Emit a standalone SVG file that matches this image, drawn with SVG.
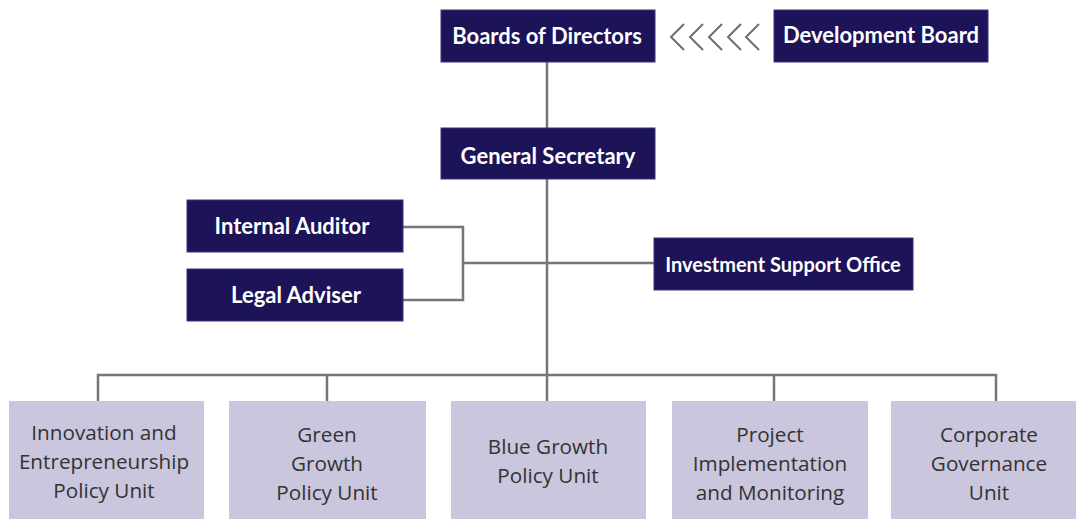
<svg xmlns="http://www.w3.org/2000/svg" width="1076" height="519" viewBox="0 0 1076 519">
<style>
.dk{fill:#1c1358;stroke:#3a3280;stroke-width:1}
.lt{fill:#c9c6dd}
.wt{font-family:Lato,"Open Sans",sans-serif;font-weight:bold;font-size:22px;fill:#ffffff;text-anchor:middle}
.gt{font-family:"Open Sans","Noto Sans",sans-serif;font-size:20.7px;fill:#333333;text-anchor:middle}
.ln{fill:none;stroke:#767676;stroke-width:2.5}
.ch{fill:none;stroke:#6e6e6e;stroke-width:2}
</style>
<rect width="1076" height="519" fill="#ffffff"/>
<g id="connectors">
<path class="ln" d="M547 62V375"/>
<path class="ln" d="M403 227H463V300H403M463 263H654"/>
<path class="ln" d="M98 402V375H996V402M327 375V402M547 375V402M774 375V402"/>
<g id="chevrons">
<path class="ch" d="M684 24L671 37L684 50"/>
<path class="ch" d="M703 24L690 37L703 50"/>
<path class="ch" d="M722 24L709 37L722 50"/>
<path class="ch" d="M741 24L728 37L741 50"/>
<path class="ch" d="M759 24L746 37L759 50"/>
</g>
</g>
<g id="boards"><rect class="dk" x="441" y="10" width="214" height="52"/><text class="wt" x="547" y="44">Boards of Directors</text></g>
<g id="development"><rect class="dk" x="774" y="10" width="214" height="52"/><text class="wt" x="881" y="43">Development Board</text></g>
<g id="secretary"><rect class="dk" x="441" y="128" width="214" height="51"/><text class="wt" x="548" y="164">General Secretary</text></g>
<g id="auditor"><rect class="dk" x="187" y="200" width="216" height="52"/><text class="wt" x="292" y="234">Internal Auditor</text></g>
<g id="legal"><rect class="dk" x="187" y="269" width="216" height="52"/><text class="wt" x="296" y="303">Legal Adviser</text></g>
<g id="investment"><rect class="dk" x="654" y="238" width="259" height="52"/><text class="wt" x="783" y="272" style="font-size:20px">Investment Support Office</text></g>
<g id="unit1"><rect class="lt" x="9" y="401" width="195" height="118"/><text class="gt" x="104" y="440">Innovation and</text><text class="gt" x="104" y="469">Entrepreneurship</text><text class="gt" x="104" y="498">Policy Unit</text></g>
<g id="unit2"><rect class="lt" x="229" y="401" width="197" height="118"/><text class="gt" x="327" y="442">Green</text><text class="gt" x="327" y="471">Growth</text><text class="gt" x="327" y="500">Policy Unit</text></g>
<g id="unit3"><rect class="lt" x="451" y="401" width="195" height="118"/><text class="gt" x="548" y="454">Blue Growth</text><text class="gt" x="548" y="483">Policy Unit</text></g>
<g id="unit4"><rect class="lt" x="672" y="401" width="196" height="118"/><text class="gt" x="770" y="442">Project</text><text class="gt" x="770" y="471">Implementation</text><text class="gt" x="770" y="500">and Monitoring</text></g>
<g id="unit5"><rect class="lt" x="891" y="401" width="185" height="118"/><text class="gt" x="989" y="442">Corporate</text><text class="gt" x="989" y="471">Governance</text><text class="gt" x="989" y="500">Unit</text></g>
</svg>
